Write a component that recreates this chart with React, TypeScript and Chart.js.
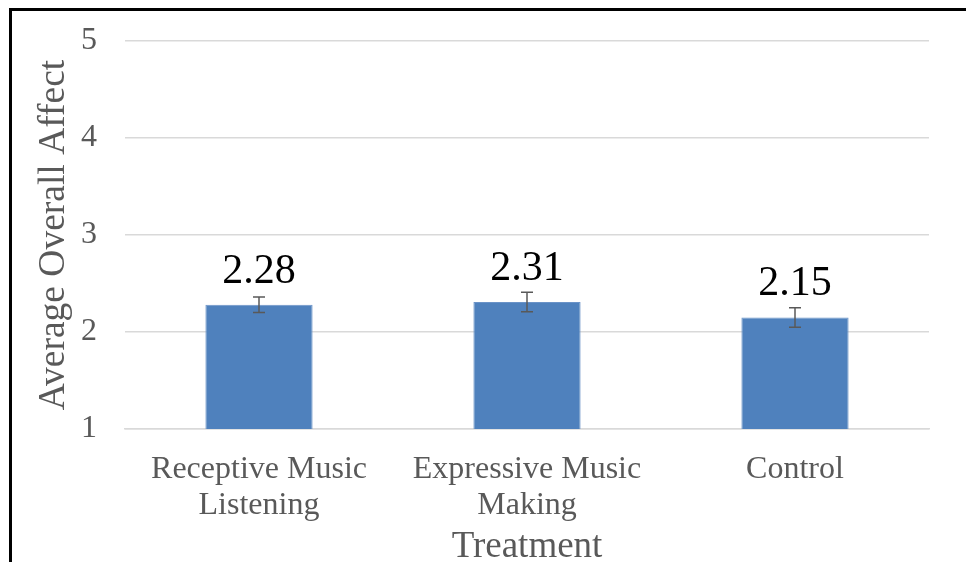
import React, { useEffect, useRef } from "react";
import { Chart, registerables } from "chart.js";

Chart.register(...registerables);

const categories: string[][] = [
  ["Receptive Music", "Listening"],
  ["Expressive Music", "Making"],
  ["Control"],
];
const values: number[] = [2.28, 2.31, 2.15];
const errors: number[] = [0.08, 0.1, 0.1];
const yTicks: number[] = [1, 2, 3, 4, 5];
const yTitle = "Average Overall Affect";
const xTitle = "Treatment";

const FONT = "'Liberation Serif', 'Times New Roman', serif";

const frame = {
  id: "frame",
  beforeDraw(chart: any) {
    const ctx = chart.ctx;
    ctx.save();
    ctx.fillStyle = "#ffffff";
    ctx.fillRect(0, 0, chart.width, chart.height);
    ctx.strokeStyle = "#000000";
    ctx.lineWidth = 3;
    ctx.beginPath();
    ctx.moveTo(10.5, chart.height + 5);
    ctx.lineTo(10.5, 9.5);
    ctx.lineTo(chart.width + 5, 9.5);
    ctx.stroke();
    ctx.restore();
  },
};

const errorAndLabels = {
  id: "errorAndLabels",
  afterDatasetsDraw(chart: any) {
    const ctx = chart.ctx;
    const meta = chart.getDatasetMeta(0);
    const y = chart.scales.y;
    ctx.save();
    meta.data.forEach((bar: any, i: number) => {
      const x = bar.x;
      const v = values[i];
      const e = errors[i];
      const yTop = y.getPixelForValue(v + e);
      const yBot = y.getPixelForValue(v - e);
      ctx.strokeStyle = "#595959";
      ctx.lineWidth = 1.5;
      ctx.beginPath();
      ctx.moveTo(x, yTop);
      ctx.lineTo(x, yBot);
      ctx.moveTo(x - 6, yTop);
      ctx.lineTo(x + 6, yTop);
      ctx.moveTo(x - 6, yBot);
      ctx.lineTo(x + 6, yBot);
      ctx.stroke();
      ctx.fillStyle = "#000000";
      ctx.font = `42px ${FONT}`;
      ctx.textAlign = "center";
      ctx.textBaseline = "alphabetic";
      ctx.fillText(v.toFixed(2), x, y.getPixelForValue(v) - 22);
    });
    ctx.restore();
  },
};

export default function App() {
  const ref = useRef<HTMLCanvasElement | null>(null);
  useEffect(() => {
    if (!ref.current) return;
    const chart = new Chart(ref.current, {
      type: "bar",
      data: {
        labels: categories,
        datasets: [
          {
            data: values,
            backgroundColor: "#4F81BD",
            borderColor: "#6A93C8",
            borderWidth: 1,
            barPercentage: 0.4,
            categoryPercentage: 1,
          },
        ],
      },
      options: {
        animation: false,
        responsive: false,
        devicePixelRatio: 1,
        layout: { padding: { top: 41, right: 37, left: 0, bottom: 0 } },
        plugins: { legend: { display: false }, tooltip: { enabled: false } },
        scales: {
          x: {
            grid: { display: false },
            border: { color: "#D9D9D9", width: 1.5 },
            ticks: {
              color: "#595959",
              font: { family: FONT, size: 32, lineHeight: 1.12 },
              padding: 15,
              maxRotation: 0,
              autoSkip: false,
            },
            title: {
              display: true,
              text: xTitle,
              color: "#595959",
              font: { family: FONT, size: 37 },
              padding: { top: 0, bottom: -7 },
            },
            afterFit: (s: any) => {
              s.height = 133;
              s.paddingLeft = 0;
              s.paddingRight = 0;
            },
          },
          y: {
            min: 1,
            max: 5,
            afterBuildTicks: (s: any) => {
              s.ticks = yTicks.map((v) => ({ value: v }));
            },
            grid: { color: "#D9D9D9", lineWidth: 1.5, drawTicks: false },
            border: { display: false },
            ticks: {
              color: "#595959",
              font: { family: FONT, size: 32 },
              padding: 28,
            },
            title: {
              display: true,
              text: yTitle,
              color: "#595959",
              font: { family: FONT, size: 37.5 },
              padding: { top: 32, bottom: 0 },
            },
            afterFit: (s: any) => {
              s.width = 125;
              s.paddingTop = 0;
              s.paddingBottom = 0;
            },
          },
        },
      },
      plugins: [frame, errorAndLabels],
    });
    return () => chart.destroy();
  }, []);
  return (
    <div style={{ position: "fixed", left: 0, top: 0, width: 966, height: 562, overflow: "hidden", background: "#fff" }}>
      <canvas ref={ref} width={966} height={562} style={{ display: "block" }} />
    </div>
  );
}
